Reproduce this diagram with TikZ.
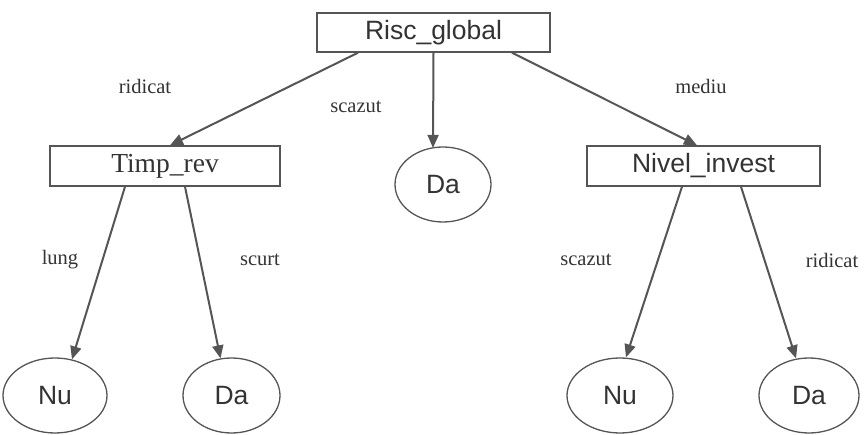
\documentclass[tikz,border=0pt]{standalone}
\usepackage{fontspec}
\setmainfont{Liberation Serif}
\newfontfamily\boxfont{Liberation Sans}
\usetikzlibrary{positioning}
\usetikzlibrary{calc}
\usetikzlibrary{arrows.meta}
\usetikzlibrary{shapes.geometric}

\definecolor{inkgray}{HTML}{555555}
\definecolor{textgray}{HTML}{333333}

\tikzset{
    attrbox/.style={draw=inkgray, line width=1.4pt, rectangle, inner sep=0pt, text=textgray,
        minimum width=233pt, minimum height=39pt, font=\boxfont\fontsize{26.5}{30}\selectfont},
    leafnode/.style={draw=inkgray, line width=1.3pt, ellipse, inner sep=0pt, text=textgray,
        minimum width=100pt, minimum height=75pt, font=\boxfont\fontsize{26.5}{30}\selectfont},
    branch/.style={-{Triangle[length=13pt,width=11pt]}, draw=inkgray, line width=2pt},
    branchlabel/.style={font=\fontsize{20.5}{24}\selectfont, inner sep=0pt, text=textgray}
}

\begin{document}
\begin{tikzpicture}[x=1pt, y=-1pt]

    \useasboundingbox (0,0) rectangle (868,435);

    % Draw attribute boxes
    \node[attrbox] (risc) at (433.5, 32.5) {Risc\_global};
    \node[attrbox, minimum width=230pt, minimum height=40pt, font=\fontsize{27.5}{30}\selectfont] (timp) at (165, 166) {Timp\_rev};
    \node[attrbox, minimum height=40pt] (nivel) at (703.5, 166) {Nivel\_invest};

    % Draw leaves
    \node[leafnode, minimum width=96pt] (daMid) at (443, 184.5) {Da};
    \node[leafnode, minimum width=104pt] (nuLeft) at (55, 395.5) {Nu};
    \node[leafnode, minimum width=97pt] (daLeft) at (231.5, 395.5) {Da};
    \node[leafnode, minimum width=106pt] (nuRight) at (620, 395.5) {Nu};
    \node[leafnode, minimum width=100pt] (daRight) at (809, 395.5) {Da};

    % Draw branches
    \draw[branch] ([xshift=-75.5pt]risc.south) -- ([xshift=5pt]timp.north);
    \draw[branch] (risc.south) -- ([xshift=-10pt, yshift=-1.5pt]daMid.north);
    \draw[branch] ([xshift=78.5pt]risc.south) -- ([xshift=-6.5pt]nivel.north);

    \draw[branch] ([xshift=-40pt]timp.south) -- ([xshift=17pt, yshift=-2pt]nuLeft.north);
    \draw[branch] ([xshift=20pt]timp.south) -- ([xshift=-11pt, yshift=-1pt]daLeft.north);

    \draw[branch] ([xshift=-21.5pt]nivel.south) -- ([xshift=6pt]nuRight.north);
    \draw[branch] ([xshift=37.5pt]nivel.south) -- ([xshift=-13pt, yshift=-1pt]daRight.north);

    % Branch labels
    \node[branchlabel] (lblRidicat) at (145, 86) {ridicat};
    \node[branchlabel] (lblScazut) at (356, 107) {scazut};
    \node[branchlabel] (lblMediu) at (701, 86) {mediu};
    \node[branchlabel] (lblLung) at (60, 260) {lung};
    \node[branchlabel] (lblScurt) at (260, 260) {scurt};
    \node[branchlabel] (lblScazutR) at (586, 260) {scazut};
    \node[branchlabel] (lblRidicatR) at (832, 260) {ridicat};

\end{tikzpicture}
\end{document}
